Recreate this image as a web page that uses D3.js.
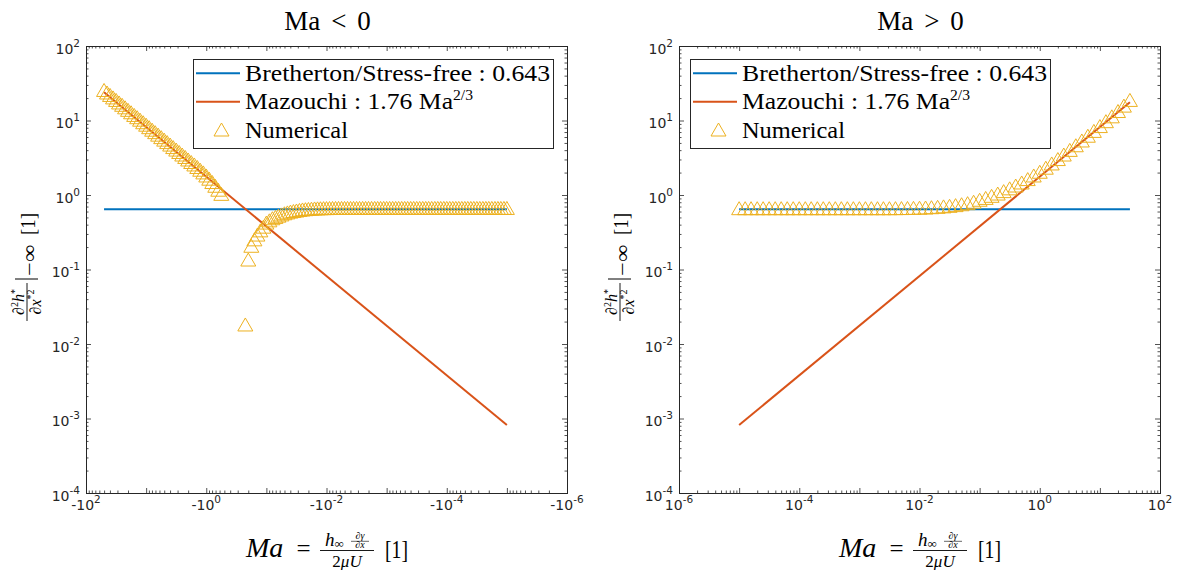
<!DOCTYPE html>
<html><head><meta charset="utf-8">
<script src="https://cdn.jsdelivr.net/npm/d3@7"></script>
<style>body{margin:0;background:#fff}svg{display:block}</style>
</head><body>
<script>
// ---------------- DATA ----------------
const yTickValues = [1e-4, 1e-3, 1e-2, 1e-1, 1e0, 1e1, 1e2];
const leftXTicks = [-1e2, -1e0, -1e-2, -1e-4, -1e-6];
const rightXTicks = [1e-6, 1e-4, 1e-2, 1e0, 1e2];
const panelTitles = [["Ma", "<", "0"], ["Ma", ">", "0"]];
const legendLabels = ["Bretherton/Stress-free : 0.643", "Mazouchi : 1.76 Ma", "Numerical"];

// Bretherton / stress-free constant
const leftBrMa = [-50.1, -1e-5];
const leftBrVal = [0.643, 0.643];
const rightBrMa = [1e-5, 31.6];
const rightBrVal = [0.643, 0.643];

// Mazouchi 1.76 Ma^(2/3) (end points of the straight log-log line)
const leftMzMa = [-50.1, -1e-5];
const leftMzVal = [23.9, 8.17e-4];
const rightMzMa = [1e-5, 31.6];
const rightMzVal = [8.17e-4, 17.6];

// Numerical, Ma < 0
const leftMa = [
  -50.1,-44.7,-39.8,-35.5,-31.6,-28.2,-25.1,-22.4,-20.0,-17.8,
  -15.8,-14.1,-12.6,-11.2,-10.0,-8.91,-7.94,-7.08,-6.31,-5.62,
  -5.01,-4.47,-3.98,-3.55,-3.16,-2.82,-2.51,-2.24,-2.00,-1.78,
  -1.58,-1.41,-1.26,-1.12,-1.00,-0.891,-0.794,-0.708,-0.631,-0.562,
  -0.224,-0.200,-0.178,-0.158,-0.141,-0.126,-0.112,-0.100,
  -8.91e-2,-7.94e-2,-7.08e-2,-6.31e-2,-5.62e-2,-5.01e-2,-4.47e-2,-3.98e-2,-3.55e-2,-3.16e-2,
  -2.82e-2,-2.51e-2,-2.24e-2,-2.00e-2,-1.78e-2,-1.58e-2,-1.41e-2,-1.26e-2,-1.12e-2,-1.00e-2,
  -8.91e-3,-7.94e-3,-7.08e-3,-6.31e-3,-5.62e-3,-5.01e-3,-4.47e-3,-3.98e-3,-3.55e-3,-3.16e-3,
  -2.82e-3,-2.51e-3,-2.24e-3,-2.00e-3,-1.78e-3,-1.58e-3,-1.41e-3,-1.26e-3,-1.12e-3,-1.00e-3,
  -8.91e-4,-7.94e-4,-7.08e-4,-6.31e-4,-5.62e-4,-5.01e-4,-4.47e-4,-3.98e-4,-3.55e-4,-3.16e-4,
  -2.82e-4,-2.51e-4,-2.24e-4,-2.00e-4,-1.78e-4,-1.58e-4,-1.41e-4,-1.26e-4,-1.12e-4,-1.00e-4,
  -8.91e-5,-7.94e-5,-7.08e-5,-6.31e-5,-5.62e-5,-5.01e-5,-4.47e-5,-3.98e-5,-3.55e-5,-3.16e-5,
  -2.82e-5,-2.51e-5,-2.24e-5,-2.00e-5,-1.78e-5,-1.58e-5,-1.41e-5,-1.26e-5,-1.12e-5,-1.00e-5
];
const leftNum = [
  25.3,23.4,21.7,20.1,18.6,17.2,16.0,14.8,13.7,12.7,
  11.7,10.9,10.1,9.33,8.65,8.01,7.41,6.87,6.36,5.89,
  5.45,5.05,4.68,4.33,4.01,3.72,3.44,3.19,2.95,2.73,
  2.53,2.34,2.15,1.98,1.80,1.63,1.47,1.31,1.16,1.02,
  0.018,0.134,0.205,0.25,0.29,0.33,0.37,0.42,
  0.45,0.48,0.50,0.52,0.54,0.56,0.575,0.59,0.60,0.61,
  0.62,0.63,0.635,0.64,0.645,0.65,0.652,0.654,0.656,0.657,
  0.658,0.659,0.66,0.66,0.66,0.66,0.66,0.66,0.66,0.66,
  0.66,0.66,0.66,0.66,0.66,0.66,0.66,0.66,0.66,0.66,
  0.66,0.66,0.66,0.66,0.66,0.66,0.66,0.66,0.66,0.66,
  0.66,0.66,0.66,0.66,0.66,0.66,0.66,0.66,0.66,0.66,
  0.66,0.66,0.66,0.66,0.66,0.66,0.66,0.66,0.66,0.66,
  0.66,0.66,0.66,0.66,0.66,0.66,0.66,0.66,0.66,0.66
];

// Numerical, Ma > 0
const rightMa = [
  1.00e-5,1.26e-5,1.58e-5,2.00e-5,2.51e-5,3.16e-5,3.98e-5,5.01e-5,6.31e-5,7.94e-5,
  1.00e-4,1.26e-4,1.58e-4,2.00e-4,2.51e-4,3.16e-4,3.98e-4,5.01e-4,6.31e-4,7.94e-4,
  1.00e-3,1.26e-3,1.58e-3,2.00e-3,2.51e-3,3.16e-3,3.98e-3,5.01e-3,6.31e-3,7.94e-3,
  1.00e-2,1.26e-2,1.58e-2,2.00e-2,2.51e-2,3.16e-2,3.98e-2,5.01e-2,6.31e-2,7.94e-2,
  0.100,0.126,0.158,0.200,0.251,0.316,0.398,0.501,0.631,0.794,
  1.00,1.26,1.58,2.00,2.51,3.16,3.98,5.01,6.31,7.94,
  10.0,12.6,15.8,20.0,25.1,31.6
];
const rightNum = [
  0.655,0.655,0.655,0.655,0.655,0.655,0.655,0.655,0.655,0.655,
  0.655,0.655,0.655,0.655,0.655,0.655,0.655,0.655,0.655,0.655,
  0.655,0.655,0.655,0.655,0.655,0.655,0.656,0.657,0.659,0.662,
  0.665,0.669,0.675,0.683,0.693,0.705,0.72,0.74,0.765,0.80,
  0.85,0.90,0.96,1.03,1.11,1.21,1.32,1.45,1.61,1.80,
  2.02,2.29,2.61,2.99,3.44,3.97,4.58,5.31,6.15,7.14,
  8.29,9.64,11.2,13.2,15.6,18.6
];

// ---------------- DRAWING ----------------
const C = {blue:"#0072BD", orange:"#D95319", yellow:"#EDB120", ax:"#262626"};
const SERIF = "'Liberation Serif','Times New Roman',serif";
const SANS = "'DejaVu Sans','Liberation Sans',sans-serif";
const TRI = "M0,-7L7.5,6L-7.5,6Z";

const svg = d3.select("body").append("svg").attr("width",1181).attr("height",570);

const Y0 = 46, Y1 = 493;

function supText(sel, base, exp, size, supSize, dy){
  sel.text(null);
  sel.append("tspan").text(base).attr("font-size", size);
  sel.append("tspan").text(exp).attr("font-size", supSize).attr("dy", -dy);
}

function panel(cfg){
  const x = d3.scaleLog().domain(cfg.xDomain).range([cfg.x0, cfg.x1]);
  const y = d3.scaleLog().domain([1e-4, 1e2]).range([Y1, Y0]);
  const g = svg.append("g");

  g.append("rect").attr("x",cfg.x0).attr("y",Y0).attr("width",cfg.x1-cfg.x0).attr("height",Y1-Y0)
    .attr("fill","none").attr("stroke",C.ax).attr("stroke-width",1).attr("shape-rendering","crispEdges");

  const sgn = cfg.xDomain[0] < 0 ? -1 : 1;
  const xMajor = d3.range(-6, 3).map(e => sgn*Math.pow(10,e));
  const xMinor = [];
  for (let e=-6;e<2;e++) for (let k=2;k<10;k++) xMinor.push(sgn*k*Math.pow(10,e));
  const yMinor = [];
  for (let e=-4;e<2;e++) for (let k=2;k<10;k++) yMinor.push(k*Math.pow(10,e));

  function tickAxis(axisFn, scale, vals, size, tr){
    const a = g.append("g").attr("transform", tr)
      .call(axisFn(scale).tickValues(vals).tickSize(-size).tickSizeOuter(0).tickFormat(""));
    a.select(".domain").remove();
    a.selectAll("line").attr("stroke",C.ax).attr("stroke-width",0.8);
  }
  tickAxis(d3.axisBottom, x, xMajor, 5, `translate(0,${Y1})`);
  tickAxis(d3.axisBottom, x, xMinor, 2.5, `translate(0,${Y1})`);
  tickAxis(d3.axisTop, x, xMajor, 5, `translate(0,${Y0})`);
  tickAxis(d3.axisTop, x, xMinor, 2.5, `translate(0,${Y0})`);
  tickAxis(d3.axisLeft, y, yTickValues, 5, `translate(${cfg.x0},0)`);
  tickAxis(d3.axisLeft, y, yMinor, 2.5, `translate(${cfg.x0},0)`);
  tickAxis(d3.axisRight, y, yTickValues, 5, `translate(${cfg.x1},0)`);
  tickAxis(d3.axisRight, y, yMinor, 2.5, `translate(${cfg.x1},0)`);

  cfg.xTicks.forEach(v => {
    const e = Math.round(Math.log10(Math.abs(v)));
    const t = g.append("text").attr("x", x(v)).attr("y", 510).attr("text-anchor","middle")
      .attr("font-family",SANS).attr("fill",C.ax);
    supText(t, (v<0?"-":"")+"10", String(e), 14, 10.5, 7);
  });
  yTickValues.forEach(v => {
    const e = Math.round(Math.log10(v));
    const t = g.append("text").attr("x", cfg.x0-6).attr("y", y(v)+7.5).attr("text-anchor","end")
      .attr("font-family",SANS).attr("fill",C.ax);
    supText(t, "10", String(e), 14, 10.5, 7);
  });

  const line = d3.line().x(d=>x(d[0])).y(d=>y(d[1]));
  g.append("path").datum(d3.zip(cfg.brMa,cfg.brVal)).attr("d",line)
    .attr("fill","none").attr("stroke",C.blue).attr("stroke-width",2);
  g.append("path").datum(d3.zip(cfg.mzMa,cfg.mzVal)).attr("d",line)
    .attr("fill","none").attr("stroke",C.orange).attr("stroke-width",2);
  g.append("g").selectAll("path").data(d3.zip(cfg.numMa,cfg.numVal)).join("path")
    .attr("d",TRI).attr("transform",d=>`translate(${x(d[0])},${y(d[1])})`)
    .attr("fill","none").attr("stroke",C.yellow).attr("stroke-width",1);

  // title
  const cx = (cfg.x0+cfg.x1)/2;
  const tt = g.append("text").attr("x",cx+1).attr("y",30).attr("text-anchor","middle")
    .attr("font-family",SERIF).attr("font-size",27).attr("fill","#000");
  tt.append("tspan").text(cfg.title[0]);
  tt.append("tspan").attr("dx",11).text(cfg.title[1]);
  tt.append("tspan").attr("dx",11).text(cfg.title[2]);

  // legend
  const lx = cfg.legX, ly = 59;
  g.append("rect").attr("x",lx).attr("y",ly).attr("width",360).attr("height",89)
    .attr("fill","#fff").attr("stroke",C.ax).attr("stroke-width",1).attr("shape-rendering","crispEdges");
  const rows = [14.3, 42.7, 71];
  const lgCol = [C.blue, C.orange];
  [0,1].forEach(i => {
    g.append("line").attr("x1",lx+3).attr("x2",lx+47).attr("y1",ly+rows[i]).attr("y2",ly+rows[i])
      .attr("stroke",lgCol[i]).attr("stroke-width",2);
  });
  g.append("path").attr("d",TRI).attr("transform",`translate(${lx+28.5},${ly+rows[2]})`)
    .attr("fill","none").attr("stroke",C.yellow).attr("stroke-width",1);
  const lens = [305, 228, 103];
  legendLabels.forEach((s,i) => {
    const t = g.append("text").attr("x",lx+52).attr("y",ly+rows[i]+7.5)
      .attr("font-family",SERIF).attr("font-size",23).attr("fill","#000")
      .attr("textLength",lens[i]).attr("lengthAdjust","spacingAndGlyphs");
    if (i===1){
      t.append("tspan").text(s);
      t.append("tspan").text("2/3").attr("font-size",14).attr("dy",-9);
    } else t.text(s);
  });

  xLabel(g, cx+0.5);
  yLabel(g, cfg.x0-59, 321);
}

function xLabel(g, Cx){
  const base = 556.7;
  const f = g.append("g").attr("font-family",SERIF).attr("fill","#000");
  f.append("text").attr("x",Cx-81).attr("y",base).attr("font-size",28).attr("font-style","italic").text("Ma");
  f.append("text").attr("x",Cx-23.5).attr("y",base).attr("text-anchor","middle").attr("font-size",25).text("=");
  f.append("line").attr("x1",Cx-7).attr("x2",Cx+47).attr("y1",550.5).attr("y2",550.5).attr("stroke","#000").attr("stroke-width",0.9);
  const n = f.append("text").attr("x",Cx-2).attr("y",545.5).attr("font-size",19);
  n.append("tspan").attr("font-style","italic").text("h");
  n.append("tspan").attr("font-size",13).attr("dy",2).text("∞");
  const n2 = f.append("text").attr("x",Cx+33).attr("y",539).attr("text-anchor","middle").attr("font-size",10);
  n2.append("tspan").text("∂"); n2.append("tspan").attr("font-style","italic").text("γ");
  f.append("line").attr("x1",Cx+24).attr("x2",Cx+42).attr("y1",541.3).attr("y2",541.3).attr("stroke","#000").attr("stroke-width",0.6);
  const d2 = f.append("text").attr("x",Cx+33).attr("y",548).attr("text-anchor","middle").attr("font-size",10);
  d2.append("tspan").text("∂"); d2.append("tspan").attr("font-style","italic").text("x");
  const d = f.append("text").attr("x",Cx+20).attr("y",567).attr("text-anchor","middle").attr("font-size",17);
  d.append("tspan").text("2"); d.append("tspan").attr("font-style","italic").text("μU");
  f.append("text").attr("x",Cx+58).attr("y",base+1).attr("font-size",25)
    .attr("textLength",23).attr("lengthAdjust","spacingAndGlyphs").text("[1]");
}

function yLabel(g, cx, by){
  const f = g.append("g").attr("transform",`translate(${cx},${by}) rotate(-90)`)
    .attr("font-family",SERIF).attr("fill","#000");
  const n = f.append("text").attr("x",19).attr("y",-3.5).attr("text-anchor","middle").attr("font-size",16);
  n.append("tspan").text("∂");
  n.append("tspan").attr("font-size",10).attr("dy",-6).text("2");
  n.append("tspan").attr("font-style","italic").attr("dy",6).text("h");
  n.append("tspan").attr("font-size",10).attr("dy",-6).text("*");
  f.append("line").attr("x1",0).attr("x2",38).attr("y1",0).attr("y2",0).attr("stroke","#000").attr("stroke-width",0.9);
  const d = f.append("text").attr("x",19).attr("y",14).attr("text-anchor","middle").attr("font-size",16);
  d.append("tspan").text("∂");
  d.append("tspan").attr("font-style","italic").text("x");
  d.append("tspan").attr("font-size",10).attr("dy",-7).text("*2");
  f.append("line").attr("x1",42).attr("x2",42).attr("y1",-12).attr("y2",11).attr("stroke","#000").attr("stroke-width",1);
  f.append("text").attr("x",45).attr("y",9).attr("font-size",20)
    .attr("textLength",31).attr("lengthAdjust","spacingAndGlyphs").text("−∞");
  f.append("text").attr("x",86).attr("y",7.5).attr("font-size",22)
    .attr("textLength",22).attr("lengthAdjust","spacingAndGlyphs").text("[1]");
}

panel({x0:86, x1:567, xDomain:[-1e2,-1e-6], xTicks:leftXTicks, title:panelTitles[0], legX:193,
  brMa:leftBrMa, brVal:leftBrVal, mzMa:leftMzMa, mzVal:leftMzVal, numMa:leftMa, numVal:leftNum});
panel({x0:679, x1:1160, xDomain:[1e-6,1e2], xTicks:rightXTicks, title:panelTitles[1], legX:690,
  brMa:rightBrMa, brVal:rightBrVal, mzMa:rightMzMa, mzVal:rightMzVal, numMa:rightMa, numVal:rightNum});
</script>
</body></html>
